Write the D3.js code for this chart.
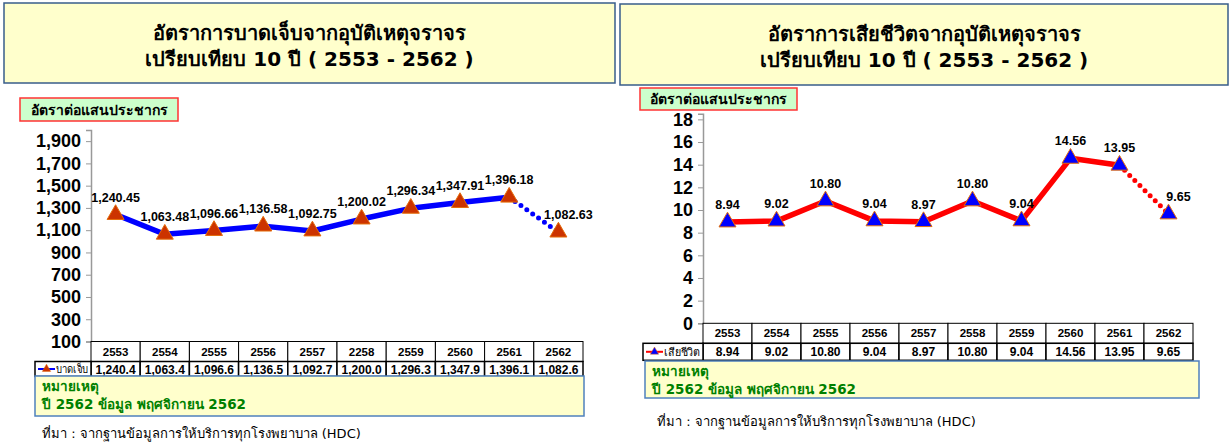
<!DOCTYPE html>
<html>
<head>
<meta charset="utf-8">
<script src="https://cdn.jsdelivr.net/npm/d3@7"></script>
<style>
  body { margin: 0; background: #fff; }
  svg text { font-family: Tahoma, "DejaVu Sans", "Noto Sans", sans-serif; }
  svg text.num { font-family: "Liberation Sans", Arial, sans-serif; }
</style>
</head>
<body>
<svg id="chart" width="1231" height="442"></svg>
<script>
// ---- data ----
const injuryYears = ['2553', '2554', '2555', '2556', '2557', '2258', '2559', '2560', '2561', '2562'];
const injuryRates = [1240.45, 1063.48, 1096.66, 1136.58, 1092.75, 1200.02, 1296.34, 1347.91, 1396.18, 1082.63];
const injuryTicks = [100, 300, 500, 700, 900, 1100, 1300, 1500, 1700, 1900];

const deathYears = ['2553', '2554', '2555', '2556', '2557', '2558', '2559', '2560', '2561', '2562'];
const deathRates = [8.94, 9.02, 10.80, 9.04, 8.97, 10.80, 9.04, 14.56, 13.95, 9.65];
const deathTicks = [0, 2, 4, 6, 8, 10, 12, 14, 16, 18];

const titles = [
    ['อัตราการบาดเจ็บจากอุบัติเหตุจราจร', 'เปรียบเทียบ 10 ปี ( 2553 - 2562 )'],
    ['อัตราการเสียชีวิตจากอุบัติเหตุจราจร', 'เปรียบเทียบ 10 ปี ( 2553 - 2562 )']
];
const unitLabel = 'อัตราต่อแสนประชากร';
const noteLines = ['หมายเหตุ', 'ปี 2562 ข้อมูล พฤศจิกายน 2562'];
const sourceText = 'ที่มา : จากฐานข้อมูลการให้บริการทุกโรงพยาบาล (HDC)';

const svg = d3.select('#chart');

function drawPanel(cfg) {
    const g = svg.append('g');

    // title box
    g.append('rect')
        .attr('x', cfg.titleBox[0]).attr('y', cfg.titleBox[1])
        .attr('width', cfg.titleBox[2]).attr('height', cfg.titleBox[3])
        .attr('fill', '#ffffcc').attr('stroke', '#385d8a').attr('stroke-width', 1.5);
    const tcx = cfg.titleBox[0] + cfg.titleBox[2] / 2;
    cfg.title.forEach((t, i) => {
        g.append('text')
            .attr('x', tcx).attr('y', cfg.titleBox[1] + 37 + i * 26)
            .attr('text-anchor', 'middle')
            .style('font-size', '20px').style('font-weight', 'bold')
            .text(t);
    });

    // unit label box
    g.append('rect')
        .attr('x', cfg.unitBox[0]).attr('y', cfg.unitBox[1])
        .attr('width', cfg.unitBox[2]).attr('height', cfg.unitBox[3])
        .attr('fill', '#ccffcc').attr('stroke', '#ff3333').attr('stroke-width', 1.5);
    g.append('text')
        .attr('x', cfg.unitBox[0] + cfg.unitBox[2] / 2)
        .attr('y', cfg.unitBox[1] + cfg.unitBox[3] / 2 + 5)
        .attr('text-anchor', 'middle')
        .style('font-size', '14px').style('font-weight', 'bold')
        .text(unitLabel);

    // scales
    const x = d3.scaleBand()
        .domain(cfg.years)
        .range([cfg.left, cfg.right]);
    const y = d3.scaleLinear()
        .domain(cfg.yDomain)
        .range([cfg.bottom, cfg.top]);

    // y axis
    const yAxis = d3.axisLeft(y)
        .tickValues(cfg.ticks)
        .tickSize(5)
        .tickFormat(d3.format(','));
    const yg = g.append('g')
        .attr('transform', `translate(${cfg.left}, 0)`)
        .call(yAxis);
    yg.select('.domain').attr('stroke', '#999').attr('stroke-width', 1.5);
    yg.selectAll('.tick line').attr('stroke', '#999');
    yg.selectAll('.tick text')
        .attr('class', 'num')
        .attr('x', -10)
        .style('font-size', '18px').style('font-weight', 'bold')
        .attr('fill', '#000');

    // line (solid up to second last point, dotted last segment)
    const pts = cfg.values.map((v, i) => ({ year: cfg.years[i], value: v }));
    const line = d3.line()
        .x(d => x(d.year) + x.bandwidth() / 2)
        .y(d => y(d.value));
    g.append('path')
        .datum(pts.slice(0, pts.length - 1))
        .attr('d', line)
        .attr('fill', 'none')
        .attr('stroke', cfg.lineColor)
        .attr('stroke-width', 5.5)
        .attr('stroke-linejoin', 'round');
    g.append('path')
        .datum(pts.slice(pts.length - 2))
        .attr('d', line)
        .attr('fill', 'none')
        .attr('stroke', cfg.lineColor)
        .attr('stroke-width', 5)
        .attr('stroke-linecap', 'round')
        .attr('stroke-dasharray', '0,7.2');

    // markers
    const tri = d3.symbol().type(d3.symbolTriangle).size(125);
    g.selectAll('.marker')
        .data(pts)
        .join('path')
        .attr('class', 'marker')
        .attr('d', tri)
        .attr('transform', d => `translate(${x(d.year) + x.bandwidth() / 2}, ${y(d.value)})`)
        .attr('fill', cfg.markerFill)
        .attr('stroke', cfg.markerStroke)
        .attr('stroke-width', 1);

    // data labels
    g.selectAll('.dlabel')
        .data(pts)
        .join('text')
        .attr('class', 'dlabel num')
        .attr('x', (d, i) => x(d.year) + x.bandwidth() / 2 + (i === pts.length - 1 ? 10 : 0))
        .attr('y', d => y(d.value) - 13)
        .attr('text-anchor', 'middle')
        .style('font-size', '12.5px').style('font-weight', 'bold')
        .text(d => cfg.labelFormat(d.value));

    // data table
    const hTop = cfg.bottom;
    const hRow = 20, dRow = cfg.dataRow;
    const tbl = g.append('g');
    cfg.years.forEach((yr, i) => {
        const cx = x(yr);
        tbl.append('rect')
            .attr('x', cx).attr('y', hTop)
            .attr('width', x.bandwidth()).attr('height', hRow)
            .attr('fill', '#fff').attr('stroke', '#000').attr('stroke-width', 1);
        tbl.append('rect')
            .attr('x', cx).attr('y', hTop + hRow)
            .attr('width', x.bandwidth()).attr('height', dRow)
            .attr('fill', '#fff').attr('stroke', '#000').attr('stroke-width', 1.5);
        tbl.append('text')
            .attr('class', 'num')
            .attr('x', cx + x.bandwidth() / 2).attr('y', hTop + 14)
            .attr('text-anchor', 'middle')
            .style('font-size', '11.5px').style('font-weight', 'bold')
            .text(yr);
        tbl.append('text')
            .attr('class', 'num')
            .attr('x', cx + x.bandwidth() / 2).attr('y', hTop + hRow + dRow / 2 + 4.5)
            .attr('text-anchor', 'middle')
            .style('font-size', '12px').style('font-weight', 'bold')
            .text(cfg.tableFormat(cfg.values[i]));
    });
    // legend cell
    tbl.append('rect')
        .attr('x', cfg.legendLeft).attr('y', hTop + hRow)
        .attr('width', cfg.left - cfg.legendLeft).attr('height', dRow)
        .attr('fill', '#fff').attr('stroke', '#000').attr('stroke-width', 1.5);
    const ly = hTop + hRow + dRow / 2;
    tbl.append('line')
        .attr('x1', cfg.legendLeft + 3).attr('x2', cfg.legendLeft + 20)
        .attr('y1', ly).attr('y2', ly)
        .attr('stroke', cfg.lineColor).attr('stroke-width', 2);
    tbl.append('path')
        .attr('d', d3.symbol().type(d3.symbolTriangle).size(30))
        .attr('transform', `translate(${cfg.legendLeft + 11.5}, ${ly})`)
        .attr('fill', cfg.markerFill).attr('stroke', cfg.markerStroke).attr('stroke-width', 0.5);
    const nameW = cfg.left - cfg.legendLeft - 24;
    tbl.append('text')
        .attr('x', cfg.legendLeft + 21).attr('y', ly + 4)
        .attr('textLength', nameW)
        .attr('lengthAdjust', 'spacingAndGlyphs')
        .style('font-size', '11px')
        .text(cfg.seriesName);

    // note box
    g.append('rect')
        .attr('x', cfg.noteBox[0]).attr('y', cfg.noteBox[1])
        .attr('width', cfg.noteBox[2]).attr('height', cfg.noteBox[3])
        .attr('fill', '#ffffcc').attr('stroke', '#4f81bd').attr('stroke-width', 1.5);
    noteLines.forEach((t, i) => {
        g.append('text')
            .attr('x', cfg.noteBox[0] + 7).attr('y', cfg.noteBox[1] + 15 + i * 18)
            .attr('fill', '#008000')
            .style('font-size', '13.5px').style('font-weight', 'bold')
            .text(t);
    });

    // source
    g.append('text')
        .attr('x', cfg.source[0]).attr('y', cfg.source[1])
        .style('font-size', '13px')
        .text(sourceText);
}

// left: injury rate
drawPanel({
    title: titles[0],
    titleBox: [4, 3, 611, 80],
    unitBox: [20, 98, 158, 23],
    years: injuryYears,
    values: injuryRates,
    ticks: injuryTicks,
    yDomain: [100, 2000],
    left: 91, right: 583, top: 130, bottom: 341.5,
    dataRow: 15,
    legendLeft: 35,
    lineColor: '#0000ff',
    markerFill: '#cc3300',
    markerStroke: '#e46c0a',
    labelFormat: d3.format(',.2f'),
    tableFormat: v => d3.format(',.1f')(Math.floor(v * 10) / 10),
    seriesName: 'บาดเจ็บ',
    noteBox: [35, 376, 549, 40],
    source: [42, 438]
});

// right: death rate
drawPanel({
    title: titles[1],
    titleBox: [620, 4, 608, 81],
    unitBox: [640, 88, 157, 22],
    years: deathYears,
    values: deathRates,
    ticks: deathTicks,
    yDomain: [0, 18.5],
    left: 703, right: 1193, top: 113.7, bottom: 323.3,
    dataRow: 17,
    legendLeft: 643,
    lineColor: '#ff0000',
    markerFill: '#0000ff',
    markerStroke: '#e46c0a',
    labelFormat: d3.format('.2f'),
    tableFormat: d3.format('.2f'),
    seriesName: 'เสียชีวิต',
    noteBox: [645, 361, 554, 37],
    source: [657, 426]
});
</script>
</body>
</html>
